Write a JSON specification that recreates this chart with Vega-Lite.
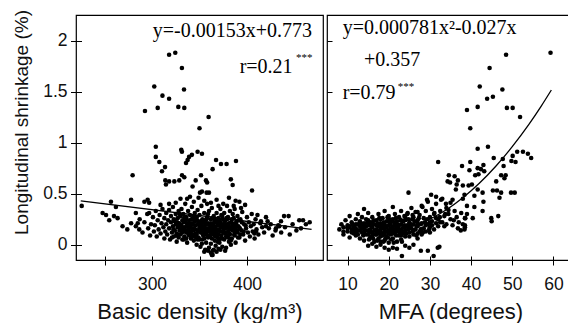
{
"$schema": "https://vega.github.io/schema/vega-lite/v6.json",
"background": "white",
"padding": {"left": 12, "top": 8, "right": 0, "bottom": 0},
"spacing": 1,
"config": {
 "view": {"stroke": "#000", "strokeWidth": 1.2},
 "axis": {"grid": false, "domain": false, "tickColor": "#000", "tickWidth": 1, "labelColor": "#111", "titleColor": "#111", "labelFont": "Liberation Sans", "titleFont": "Liberation Sans", "labelFontSize": 17.5, "titleFontWeight": "normal"}
},
"datasets": {
 "d": [
 {"x":226,"y":0.38},{"x":318,"y":1.86},{"x":324.5,"y":1.88},{"x":331.5,"y":1.73},{"x":302.4,"y":1.55},{"x":311,"y":1.46},{"x":318,"y":1.43},{"x":306,"y":1.34},{"x":292.6,"y":1.31},{"x":327.7,"y":1.35},{"x":334,"y":1.34},{"x":333.7,"y":1.52},{"x":304,"y":0.96},{"x":330.8,"y":0.93},{"x":331.5,"y":0.91},{"x":304,"y":0.86},{"x":307.7,"y":0.81},{"x":313.7,"y":0.76},{"x":310.5,"y":0.72},{"x":279.6,"y":0.68},{"x":337.5,"y":0.83},{"x":339,"y":0.86},{"x":335.8,"y":0.8},{"x":342,"y":0.88},{"x":348,"y":0.91},{"x":314,"y":0.63},{"x":318,"y":0.62},{"x":323.5,"y":0.62},{"x":328.7,"y":0.63},{"x":331.6,"y":0.68},{"x":334,"y":0.66},{"x":314.7,"y":0.59},{"x":278,"y":0.44},{"x":292,"y":0.42},{"x":295.4,"y":0.44},{"x":297,"y":0.41},{"x":248,"y":0.31},{"x":251.6,"y":0.29},{"x":256.8,"y":0.42},{"x":262,"y":0.37},{"x":260,"y":0.28},{"x":255,"y":0.24},{"x":263.8,"y":0.26},{"x":269,"y":0.18},{"x":274,"y":0.15},{"x":278,"y":0.21},{"x":283,"y":0.31},{"x":285,"y":0.21},{"x":286.6,"y":0.15},{"x":297,"y":0.31},{"x":342.7,"y":0.57},{"x":340,"y":0.47},{"x":346,"y":0.63},
 {"x":359.6,"y":1.25},{"x":350,"y":1.14},{"x":352.6,"y":0.89},{"x":367.4,"y":0.83},{"x":372.6,"y":0.79},{"x":378.5,"y":0.79},{"x":388.4,"y":0.82},{"x":363.8,"y":0.74},{"x":351.6,"y":0.68},{"x":356.8,"y":0.63},{"x":358,"y":0.61},{"x":350.5,"y":0.51},{"x":352.6,"y":0.52},{"x":357.5,"y":0.51},{"x":360,"y":0.51},{"x":383,"y":0.64},{"x":384.9,"y":0.585},{"x":392,"y":0.42},{"x":405.3,"y":0.53},{"x":393.7,"y":0.36},{"x":411,"y":0.29},{"x":435.8,"y":0.23},{"x":439,"y":0.28},{"x":443.8,"y":0.28},{"x":455,"y":0.24},{"x":459,"y":0.24},{"x":456.8,"y":0.16},{"x":430.5,"y":0.16},{"x":434,"y":0.18},{"x":414.7,"y":0.23},{"x":407.7,"y":0.11},{"x":409.5,"y":0.13},{"x":383,"y":0.0},{"x":363.8,"y":-0.1},{"x":421.7,"y":0.23},{"x":420,"y":0.18},
 {"x":337,"y":0.45},{"x":344,"y":0.42},{"x":349,"y":0.46},{"x":355,"y":0.43},{"x":362,"y":0.41},{"x":368,"y":0.44},{"x":375,"y":0.4},{"x":381,"y":0.46},{"x":388,"y":0.43},{"x":398,"y":0.39},{"x":325,"y":0.41},{"x":330,"y":0.45},{"x":318,"y":0.4},{"x":309,"y":0.39},{"x":370,"y":0.38},{"x":386,"y":0.38},{"x":358,"y":0.4},
 {"x":283,"y":0.18},{"x":287,"y":0.25},{"x":290,"y":0.12},{"x":292,"y":0.22},{"x":295,"y":0.3},{"x":296,"y":0.16},{"x":298,"y":0.09},{"x":299,"y":0.2},{"x":301,"y":0.27},{"x":302,"y":0.13},
 {"x":303,"y":0.19},{"x":304,"y":0.33},{"x":305,"y":0.08},{"x":306,"y":0.24},{"x":307,"y":0.15},{"x":308,"y":0.29},{"x":309,"y":0.11},{"x":310,"y":0.21},{"x":311,"y":0.35},{"x":312,"y":0.17},{"x":313,"y":0.06},{"x":313,"y":0.26},{"x":314,"y":0.13},{"x":315,"y":0.31},{"x":315,"y":0.2},
 {"x":316,"y":0.1},{"x":317,"y":0.24},{"x":318,"y":0.16},{"x":318,"y":0.34},{"x":319,"y":0.05},{"x":320,"y":0.22},{"x":320,"y":0.28},{"x":321,"y":0.12},{"x":322,"y":0.18},{"x":322,"y":0.37},{"x":323,"y":0.08},{"x":323,"y":0.25},{"x":324,"y":0.14},{"x":325,"y":0.3},{"x":325,"y":0.2},{"x":326,"y":0.03},{"x":326,"y":0.11},{"x":327,"y":0.26},{"x":327,"y":0.17},{"x":328,"y":0.33},{"x":328,"y":0.07},{"x":329,"y":0.21},{"x":329,"y":0.14},{"x":330,"y":0.28},{"x":330,"y":0.1},
 {"x":331,"y":0.19},{"x":331,"y":0.35},{"x":332,"y":0.05},{"x":332,"y":0.24},{"x":333,"y":0.13},{"x":333,"y":0.3},{"x":334,"y":0.17},{"x":334,"y":0.08},{"x":335,"y":0.22},{"x":335,"y":0.4},{"x":336,"y":0.12},{"x":336,"y":0.27},{"x":337,"y":0.02},{"x":337,"y":0.19},{"x":338,"y":0.15},{"x":338,"y":0.33},{"x":339,"y":0.09},{"x":339,"y":0.24},{"x":340,"y":0.18},{"x":340,"y":0.29},{"x":341,"y":0.06},{"x":341,"y":0.13},{"x":342,"y":0.21},{"x":342,"y":0.37},{"x":343,"y":0.1},{"x":343,"y":0.26},{"x":344,"y":0.16},{"x":344,"y":0.04},{"x":345,"y":0.23},{"x":345,"y":0.31},
 {"x":346,"y":0.11},{"x":346,"y":0.19},{"x":347,"y":0.0},{"x":347,"y":0.27},{"x":348,"y":0.14},{"x":348,"y":0.34},{"x":349,"y":0.07},{"x":349,"y":0.22},{"x":350,"y":0.17},{"x":350,"y":0.29},{"x":351,"y":-0.02},{"x":351,"y":0.12},{"x":352,"y":0.2},{"x":352,"y":0.38},{"x":353,"y":0.05},{"x":353,"y":0.25},{"x":354,"y":0.15},{"x":354,"y":0.09},{"x":355,"y":0.31},{"x":355,"y":0.18},{"x":356,"y":-0.05},{"x":356,"y":0.23},{"x":357,"y":0.11},{"x":357,"y":0.02},{"x":358,"y":0.27},{"x":358,"y":0.16},{"x":359,"y":0.07},{"x":359,"y":0.21},{"x":360,"y":0.13},{"x":360,"y":0.33},{"x":360,"y":-0.03},
 {"x":361,"y":0.19},{"x":361,"y":0.08},{"x":362,"y":0.25},{"x":362,"y":0.01},{"x":363,"y":0.14},{"x":363,"y":0.36},{"x":364,"y":0.2},{"x":364,"y":-0.06},{"x":365,"y":0.1},{"x":365,"y":0.28},{"x":366,"y":0.04},{"x":366,"y":0.17},{"x":367,"y":0.23},{"x":367,"y":-0.01},{"x":368,"y":0.12},{"x":368,"y":0.31},{"x":369,"y":0.07},{"x":369,"y":0.19},{"x":370,"y":0.26},{"x":370,"y":-0.04},{"x":371,"y":0.14},{"x":371,"y":0.02},{"x":372,"y":0.22},{"x":372,"y":0.35},{"x":373,"y":0.09},{"x":373,"y":0.17},{"x":374,"y":-0.02},{"x":374,"y":0.28},{"x":375,"y":0.12},{"x":375,"y":0.2},
 {"x":376,"y":0.05},{"x":376,"y":0.31},{"x":377,"y":0.16},{"x":377,"y":0.24},{"x":378,"y":0.08},{"x":378,"y":-0.03},{"x":379,"y":0.19},{"x":379,"y":0.38},{"x":380,"y":0.13},{"x":380,"y":0.27},{"x":381,"y":0.03},{"x":381,"y":0.21},{"x":382,"y":0.1},{"x":382,"y":0.33},{"x":383,"y":0.17},{"x":384,"y":0.06},{"x":384,"y":0.25},{"x":385,"y":0.14},{"x":385,"y":0.3},{"x":386,"y":0.2},{"x":387,"y":0.09},{"x":387,"y":0.35},{"x":388,"y":0.15},{"x":388,"y":0.02},{"x":389,"y":0.23},{"x":390,"y":0.12},{"x":390,"y":0.28},
 {"x":391,"y":0.18},{"x":392,"y":0.07},{"x":393,"y":0.25},{"x":394,"y":0.14},{"x":395,"y":0.32},{"x":396,"y":0.1},{"x":397,"y":0.2},{"x":398,"y":0.04},{"x":399,"y":0.16},{"x":400,"y":0.27},{"x":401,"y":0.12},{"x":402,"y":0.22},{"x":403,"y":0.08},{"x":404,"y":0.18},{"x":405,"y":0.3},{"x":406,"y":0.13},{"x":407,"y":0.2},{"x":408,"y":0.06},{"x":409,"y":0.25},{"x":410,"y":0.15},
 {"x":412,"y":0.1},{"x":414,"y":0.21},{"x":416,"y":0.17},{"x":418,"y":0.12},{"x":420,"y":0.27},{"x":423,"y":0.16},{"x":425,"y":0.2},{"x":427,"y":0.09},{"x":430,"y":0.14},{"x":433,"y":0.19},{"x":436,"y":0.12},{"x":440,"y":0.17},{"x":445,"y":0.1},{"x":448,"y":0.2},{"x":452,"y":0.14},{"x":462,"y":0.2},{"x":466,"y":0.22},
 {"x":321,"y":0.07},{"x":324,"y":0.23},{"x":327,"y":0.1},{"x":329,"y":0.3},{"x":332,"y":0.16},{"x":334,"y":0.27},{"x":336,"y":0.06},{"x":338,"y":0.21},{"x":340,"y":0.11},{"x":342,"y":0.16},{"x":344,"y":0.28},{"x":346,"y":0.25},{"x":348,"y":0.05},{"x":349,"y":0.13},{"x":351,"y":0.23},{"x":353,"y":0.18},{"x":355,"y":0.06},{"x":357,"y":0.2},{"x":358,"y":0.09},{"x":359,"y":0.3},{"x":361,"y":0.15},{"x":362,"y":0.21},{"x":363,"y":0.06},{"x":365,"y":0.19},{"x":366,"y":0.25},{"x":368,"y":0.15},{"x":369,"y":0.03},{"x":370,"y":0.1},{"x":371,"y":0.24},{"x":373,"y":0.29},{"x":374,"y":0.06},{"x":376,"y":0.18},{"x":377,"y":0.11},{"x":379,"y":0.25},{"x":380,"y":0.07},{"x":381,"y":0.16},{"x":383,"y":0.22},{"x":383,"y":0.04},{"x":385,"y":0.19},{"x":386,"y":0.26},{"x":387,"y":0.13},{"x":389,"y":0.18},{"x":391,"y":0.24},{"x":393,"y":0.1},{"x":335,"y":0.14},{"x":343,"y":0.2},{"x":347,"y":0.1},{"x":352,"y":0.13},{"x":356,"y":0.15},{"x":364,"y":0.12},{"x":367,"y":0.09},{"x":372,"y":0.13},{"x":378,"y":0.2},{"x":382,"y":0.15},{"x":354,"y":0.22},{"x":362,"y":0.17},{"x":339,"y":0.13},{"x":345,"y":0.08},{"x":350,"y":0.05},{"x":375,"y":0.25},
 {"x":362,"y":-0.08},{"x":365,"y":-0.05},{"x":368,"y":-0.07},{"x":372,"y":-0.05},{"x":355,"y":-0.07},{"x":359,"y":-0.06},{"x":363,"y":-0.1},{"x":377,"y":-0.06},
 {"x":322.5,"y":0.15},{"x":325.5,"y":0.09},{"x":328.5,"y":0.19},{"x":331.5,"y":0.12},{"x":333.5,"y":0.22},{"x":336.5,"y":0.18},{"x":338.5,"y":0.1},{"x":341.5,"y":0.25},{"x":343.5,"y":0.14},{"x":346.5,"y":0.07},{"x":348.5,"y":0.2},{"x":351.5,"y":0.16},{"x":353.5,"y":0.1},{"x":355.5,"y":0.24},{"x":357.5,"y":0.14},{"x":360.5,"y":0.2},{"x":362.5,"y":0.11},{"x":364.5,"y":0.16},{"x":366.5,"y":0.08},{"x":368.5,"y":0.22},{"x":370.5,"y":0.15},{"x":372.5,"y":0.06},{"x":374.5,"y":0.19},{"x":376.5,"y":0.12},{"x":378.5,"y":0.26},{"x":380.5,"y":0.18},{"x":382.5,"y":0.05},{"x":384.5,"y":0.16},{"x":386.5,"y":0.1},{"x":388.5,"y":0.21},{"x":390.5,"y":0.07},{"x":392.5,"y":0.16},{"x":394.5,"y":0.22},{"x":396.5,"y":0.13},{"x":398.5,"y":0.19},{"x":333.5,"y":0.05},{"x":341.5,"y":0.08},{"x":347.5,"y":0.24},{"x":352.5,"y":0.01},{"x":357.5,"y":0.25},{"x":363.5,"y":0.26},{"x":366.5,"y":0.13},{"x":371.5,"y":0.19},{"x":376.5,"y":0.23},{"x":381.5,"y":0.11},{"x":386.5,"y":0.16},{"x":345.5,"y":0.15},{"x":350.5,"y":0.2},{"x":355.5,"y":0.12},{"x":360.5,"y":0.09},{"x":365.5,"y":0.22},{"x":370.5,"y":0.05},{"x":375.5,"y":0.15},{"x":379.5,"y":0.09},{"x":384.5,"y":0.21},{"x":389.5,"y":0.14},{"x":339.5,"y":0.19},{"x":335.5,"y":0.25},{"x":330.5,"y":0.16},{"x":326.5,"y":0.22}
 ],
 "dl": [{"x":225,"y":0.43},{"x":468,"y":0.15}],
 "dt": [{"x":468.4,"y":2.03,"t":"y=-0.00153x+0.773"},{"x":448,"y":1.68,"t":"r=0.21"}],
 "ds": [{"x":451.6,"y":1.8,"t":"***"}],
 "m": [
 {"x":59.3,"y":1.88},{"x":48.5,"y":1.86},{"x":44.5,"y":1.73},{"x":42.1,"y":1.55},{"x":47.6,"y":1.52},{"x":43.9,"y":1.43},{"x":45.3,"y":1.45},{"x":41.6,"y":1.35},{"x":48.7,"y":1.34},{"x":50.1,"y":1.34},{"x":39,"y":1.32},{"x":51.9,"y":1.25},{"x":39.8,"y":1.14},{"x":41.6,"y":0.94},{"x":44.1,"y":0.96},{"x":32,"y":0.81},{"x":39.8,"y":0.81},{"x":37.8,"y":0.77},{"x":39.6,"y":0.73},{"x":41.6,"y":0.75},{"x":42.4,"y":0.74},{"x":43,"y":0.78},{"x":43.2,"y":0.72},{"x":45.5,"y":0.85},{"x":47.7,"y":0.84},{"x":47.9,"y":0.77},{"x":50.1,"y":0.87},{"x":50.8,"y":0.81},{"x":51.2,"y":0.91},{"x":52.6,"y":0.91},{"x":53.8,"y":0.89},{"x":54.6,"y":0.85},{"x":49.8,"y":0.82},{"x":41.8,"y":0.69},{"x":41,"y":0.68},{"x":47.3,"y":0.68},{"x":48.4,"y":0.68},{"x":48.1,"y":0.65},{"x":46.1,"y":0.62},{"x":34.6,"y":0.68},{"x":36,"y":0.67},{"x":36.8,"y":0.63},{"x":34.3,"y":0.62},{"x":34.9,"y":0.61},{"x":36.5,"y":0.59},{"x":38,"y":0.58},{"x":39.4,"y":0.58},{"x":40.2,"y":0.59},{"x":41.6,"y":0.54},{"x":42.8,"y":0.51},{"x":45.3,"y":0.53},{"x":46.3,"y":0.53},{"x":47.3,"y":0.51},{"x":49.7,"y":0.51},{"x":50.6,"y":0.51},{"x":46.9,"y":0.46},{"x":38.4,"y":0.49},{"x":40.8,"y":0.48},{"x":43,"y":0.42},{"x":40.8,"y":0.37},{"x":40.4,"y":0.26},{"x":44.9,"y":0.26},{"x":45,"y":0.23},{"x":46.6,"y":0.28},{"x":42.8,"y":0.33},{"x":24.8,"y":0.51},{"x":21,"y":0.37},{"x":14,"y":0.35},
 {"x":30.3,"y":0.49},{"x":31.5,"y":0.47},{"x":32.7,"y":0.44},{"x":33.9,"y":0.4},{"x":35.5,"y":0.44},{"x":36.3,"y":0.54},{"x":38,"y":0.45},{"x":37.6,"y":0.31},{"x":38.5,"y":0.26},{"x":38.4,"y":0.15},{"x":38.5,"y":0.19},{"x":36.8,"y":0.16},{"x":35.8,"y":0.24},{"x":34.5,"y":0.34},{"x":33.7,"y":0.3},{"x":32.4,"y":0.27},{"x":31.1,"y":0.31},{"x":29.3,"y":0.44},{"x":28.2,"y":0.37},{"x":27,"y":0.32},{"x":25.8,"y":0.29},{"x":24.6,"y":0.31},{"x":23.8,"y":0.28},{"x":23,"y":0.24},
 {"x":8,"y":0.15},{"x":8.5,"y":0.2},{"x":9,"y":0.1},{"x":9,"y":0.17},{"x":9.5,"y":0.24},{"x":10,"y":0.13},{"x":10,"y":0.19},{"x":10.5,"y":0.07},{"x":10.5,"y":0.28},{"x":11,"y":0.15},{"x":11,"y":0.22},{"x":11.5,"y":0.11},{"x":11.5,"y":0.18},{"x":12,"y":0.25},{"x":12,"y":0.09},{"x":12,"y":0.2},
 {"x":12.5,"y":0.14},{"x":12.5,"y":0.3},{"x":13,"y":0.06},{"x":13,"y":0.18},{"x":13,"y":0.23},{"x":13.5,"y":0.12},{"x":13.5,"y":0.27},{"x":14,"y":0.16},{"x":14,"y":0.04},{"x":14,"y":0.21},{"x":14.5,"y":0.1},{"x":14.5,"y":0.25},{"x":15,"y":0.14},{"x":15,"y":0.19},{"x":15,"y":0.31},{"x":15.5,"y":0.07},{"x":15.5,"y":0.22},{"x":16,"y":0.12},{"x":16,"y":0.17},{"x":16,"y":0.27},
 {"x":16.5,"y":0.03},{"x":16.5,"y":0.2},{"x":17,"y":0.1},{"x":17,"y":0.15},{"x":17,"y":0.24},{"x":17.5,"y":0.06},{"x":17.5,"y":0.18},{"x":17.5,"y":0.3},{"x":18,"y":0.13},{"x":18,"y":0.21},{"x":18,"y":0.0},{"x":18.5,"y":0.09},{"x":18.5,"y":0.16},{"x":18.5,"y":0.26},{"x":19,"y":0.04},{"x":19,"y":0.12},{"x":19,"y":0.2},{"x":19,"y":0.33},{"x":19.5,"y":0.08},{"x":19.5,"y":0.17},{"x":19.5,"y":0.23},{"x":20,"y":0.02},{"x":20,"y":0.14},{"x":20,"y":0.19},{"x":20,"y":0.28},
 {"x":20.5,"y":0.1},{"x":20.5,"y":0.22},{"x":21,"y":0.06},{"x":21,"y":0.15},{"x":21,"y":0.25},{"x":21,"y":-0.03},{"x":21.5,"y":0.12},{"x":21.5,"y":0.19},{"x":21.5,"y":0.3},{"x":22,"y":0.03},{"x":22,"y":0.17},{"x":22,"y":0.23},{"x":22.5,"y":0.09},{"x":22.5,"y":0.14},{"x":22.5,"y":0.27},{"x":23,"y":0.05},{"x":23,"y":0.2},{"x":23,"y":0.33},{"x":23.5,"y":0.11},{"x":23.5,"y":0.17},{"x":24,"y":0.08},{"x":24,"y":0.24},{"x":24,"y":0.14},
 {"x":24.5,"y":0.19},{"x":24.5,"y":0.3},{"x":25,"y":0.12},{"x":25,"y":0.22},{"x":25.5,"y":0.16},{"x":25.5,"y":0.36},{"x":26,"y":0.1},{"x":26,"y":0.2},{"x":26,"y":0.27},{"x":26.5,"y":0.15},{"x":26.5,"y":0.32},{"x":27,"y":0.06},{"x":27,"y":0.18},{"x":27,"y":0.24},{"x":27.5,"y":0.13},{"x":27.5,"y":0.29},{"x":28,"y":0.21},{"x":28,"y":0.38},{"x":28,"y":0.1},
 {"x":28.5,"y":0.16},{"x":28.5,"y":0.26},{"x":29,"y":0.13},{"x":29,"y":0.33},{"x":29.5,"y":0.2},{"x":29.5,"y":0.42},{"x":30,"y":0.17},{"x":30,"y":0.27},{"x":30.5,"y":0.23},{"x":30.5,"y":0.35},{"x":31,"y":0.15},{"x":31,"y":0.3},{"x":31.5,"y":0.21},{"x":31.5,"y":0.4},{"x":32,"y":0.25},{"x":32,"y":0.18},{"x":32.5,"y":0.33},{"x":33,"y":0.22},{"x":33,"y":0.45},{"x":33.5,"y":0.28},{"x":34,"y":0.36},{"x":34,"y":0.2},{"x":34.5,"y":0.3},{"x":35,"y":0.25},{"x":35,"y":0.41},{"x":35.5,"y":0.19},{"x":36,"y":0.33},{"x":36.5,"y":0.27},{"x":37,"y":0.22},{"x":37.5,"y":0.14},{"x":38,"y":0.2},{"x":38.5,"y":0.17},{"x":38.6,"y":0.26},{"x":39,"y":0.3},{"x":39,"y":0.38},
 {"x":11,"y":0.12},{"x":12,"y":0.16},{"x":13,"y":0.14},{"x":14,"y":0.12},{"x":14,"y":0.19},{"x":15,"y":0.1},{"x":15,"y":0.24},{"x":16,"y":0.09},{"x":16,"y":0.21},{"x":17,"y":0.19},{"x":17,"y":0.13},{"x":18,"y":0.17},{"x":18,"y":0.08},{"x":18,"y":0.25},{"x":19,"y":0.15},{"x":19,"y":0.1},{"x":20,"y":0.11},{"x":20,"y":0.23},{"x":21,"y":0.18},{"x":21,"y":0.11},{"x":22,"y":0.13},{"x":22,"y":0.2},{"x":23,"y":0.15},{"x":23,"y":0.09},{"x":24,"y":0.18},{"x":24,"y":0.27},{"x":25,"y":0.17},{"x":25,"y":0.08},{"x":26,"y":0.14},{"x":27,"y":0.11},{"x":27,"y":0.21},{"x":28,"y":0.15},{"x":29,"y":0.19},{"x":30,"y":0.22},{"x":30,"y":0.12},{"x":16.5,"y":0.14},{"x":17.5,"y":0.11},{"x":18.5,"y":0.19},{"x":19.5,"y":0.13},{"x":20.5,"y":0.16},{"x":21.5,"y":0.15},{"x":22.5,"y":0.19},{"x":23.5,"y":0.23},{"x":12.5,"y":0.2},{"x":13.5,"y":0.16},{"x":14.5,"y":0.18},{"x":15.5,"y":0.15},{"x":10,"y":0.16},{"x":9,"y":0.13},
 {"x":15,"y":-0.01},{"x":17,"y":-0.02},{"x":19,"y":-0.03},{"x":20,"y":-0.05},{"x":22,"y":-0.04},{"x":24,"y":-0.01},{"x":26,"y":0.0},{"x":18,"y":0.03},{"x":16,"y":0.01},{"x":23.2,"y":-0.11},{"x":27.8,"y":-0.06},{"x":29.5,"y":-0.06},{"x":30.9,"y":-0.11},{"x":31.9,"y":-0.03},{"x":32.3,"y":-0.02},{"x":25,"y":-0.03},{"x":27.8,"y":0.15},
 {"x":10.5,"y":0.18},{"x":11.5,"y":0.14},{"x":12.5,"y":0.1},{"x":13.2,"y":0.21},{"x":13.8,"y":0.09},{"x":14.3,"y":0.14},{"x":14.8,"y":0.22},{"x":15.3,"y":0.12},{"x":15.8,"y":0.19},{"x":16.3,"y":0.24},{"x":16.8,"y":0.1},{"x":17.3,"y":0.21},{"x":17.8,"y":0.14},{"x":18.3,"y":0.11},{"x":18.8,"y":0.22},{"x":19.3,"y":0.18},{"x":19.8,"y":0.07},{"x":20.3,"y":0.2},{"x":20.8,"y":0.13},{"x":21.3,"y":0.22},{"x":21.8,"y":0.09},{"x":22.3,"y":0.16},{"x":22.8,"y":0.24},{"x":23.3,"y":0.13},{"x":23.8,"y":0.19},{"x":24.3,"y":0.11},{"x":24.8,"y":0.25},{"x":25.3,"y":0.2},{"x":25.8,"y":0.13},{"x":26.3,"y":0.23},{"x":26.8,"y":0.18},{"x":27.3,"y":0.26},{"x":27.8,"y":0.2},{"x":28.3,"y":0.12},{"x":28.8,"y":0.22},{"x":29.3,"y":0.25},{"x":29.8,"y":0.15},{"x":30.5,"y":0.19},{"x":31.5,"y":0.26},{"x":32.5,"y":0.22},{"x":33.5,"y":0.18},{"x":15.2,"y":0.05},{"x":17.2,"y":0.04},{"x":19.2,"y":0.06},{"x":21.2,"y":0.02},{"x":23.2,"y":0.03},{"x":20.6,"y":0.05},{"x":18.7,"y":0.03},{"x":16.2,"y":0.06},{"x":12.2,"y":0.13},{"x":11.2,"y":0.2},{"x":13.7,"y":0.2},{"x":17.7,"y":0.26},{"x":19.7,"y":0.27},{"x":21.7,"y":0.26},{"x":24.7,"y":0.15},{"x":26.7,"y":0.09},{"x":25.7,"y":0.25},{"x":22.7,"y":0.11},{"x":20.2,"y":0.25}
 ],
 "mc": [{"x":8,"y":0.191},{"x":10,"y":0.165},{"x":14,"y":0.132},{"x":18,"y":0.124},{"x":22,"y":0.141},{"x":26,"y":0.183},{"x":30,"y":0.25},{"x":34,"y":0.342},{"x":38,"y":0.459},{"x":42,"y":0.601},{"x":46,"y":0.768},{"x":50,"y":0.96},{"x":54,"y":1.176},{"x":57,"y":1.355},{"x":59.5,"y":1.515}],
 "mt": [{"x":8.8,"y":2.06,"t":"y=0.000781x²-0.027x"},{"x":14,"y":1.75,"t":"+0.357"},{"x":8.8,"y":1.43,"t":"r=0.79"}],
 "ms": [{"x":22.2,"y":1.52,"t":"***"}]
},
"hconcat": [
 {
  "width": 247, "height": 245,
  "layer": [
   {"data": {"name": "d"}, "mark": {"type": "circle", "size": 21, "color": "#000", "opacity": 1},
    "encoding": {
     "x": {"field": "x", "type": "quantitative", "scale": {"domain": [220, 480], "nice": false, "zero": false},
      "axis": {"title": "Basic density (kg/m³)", "titleFontSize": 22, "values": [250, 300, 350, 400, 450], "labelExpr": "datum.value % 100 === 0 ? datum.label : ''", "offset": -4, "tickSize": 9, "labelPadding": 10, "titlePadding": 9}},
     "y": {"field": "y", "type": "quantitative", "scale": {"domain": [-0.15, 2.25], "nice": false, "zero": false},
      "axis": {"title": "Longitudinal shrinkage (%)", "titleFontSize": 19, "values": [0, 0.25, 0.5, 0.75, 1, 1.25, 1.5, 1.75, 2], "labelExpr": "datum.value % 0.5 === 0 ? format(datum.value, '~g') : ''", "offset": -5.5, "tickSize": 11, "labelPadding": 3.5, "titleY": 107, "titlePadding": 11}}
    }},
   {"data": {"name": "dl"}, "mark": {"type": "line", "color": "#000", "strokeWidth": 1.3},
    "encoding": {"x": {"field": "x", "type": "quantitative"}, "y": {"field": "y", "type": "quantitative"}}},
   {"data": {"name": "dt"}, "mark": {"type": "text", "font": "Liberation Serif", "fontSize": 20, "align": "right", "baseline": "alphabetic", "color": "#000"},
    "encoding": {"x": {"field": "x", "type": "quantitative"}, "y": {"field": "y", "type": "quantitative"}, "text": {"field": "t"}}},
   {"data": {"name": "ds"}, "mark": {"type": "text", "font": "Liberation Serif", "fontSize": 11, "align": "left", "baseline": "alphabetic", "color": "#000"},
    "encoding": {"x": {"field": "x", "type": "quantitative"}, "y": {"field": "y", "type": "quantitative"}, "text": {"field": "t"}}}
  ]
 },
 {
  "width": 247, "height": 245,
  "layer": [
   {"data": {"name": "m"}, "mark": {"type": "circle", "size": 21, "color": "#000", "opacity": 1},
    "encoding": {
     "x": {"field": "x", "type": "quantitative", "scale": {"domain": [5, 65], "nice": false, "zero": false},
      "axis": {"title": "MFA (degrees)", "titleFontSize": 22, "values": [10, 20, 30, 40, 50, 60], "offset": -4, "tickSize": 9, "labelPadding": 10, "titlePadding": 9}},
     "y": {"field": "y", "type": "quantitative", "scale": {"domain": [-0.15, 2.25], "nice": false, "zero": false},
      "axis": {"title": null, "labels": false, "values": [0, 0.25, 0.5, 0.75, 1, 1.25, 1.5, 1.75, 2], "tickSize": -5}}
    }},
   {"data": {"name": "mc"}, "mark": {"type": "line", "color": "#000", "strokeWidth": 1.3, "interpolate": "monotone"},
    "encoding": {"x": {"field": "x", "type": "quantitative"}, "y": {"field": "y", "type": "quantitative"}}},
   {"data": {"name": "mt"}, "mark": {"type": "text", "font": "Liberation Serif", "fontSize": 20, "align": "left", "baseline": "alphabetic", "color": "#000"},
    "encoding": {"x": {"field": "x", "type": "quantitative"}, "y": {"field": "y", "type": "quantitative"}, "text": {"field": "t"}}},
   {"data": {"name": "ms"}, "mark": {"type": "text", "font": "Liberation Serif", "fontSize": 11, "align": "left", "baseline": "alphabetic", "color": "#000"},
    "encoding": {"x": {"field": "x", "type": "quantitative"}, "y": {"field": "y", "type": "quantitative"}, "text": {"field": "t"}}}
  ]
 }
]
}
